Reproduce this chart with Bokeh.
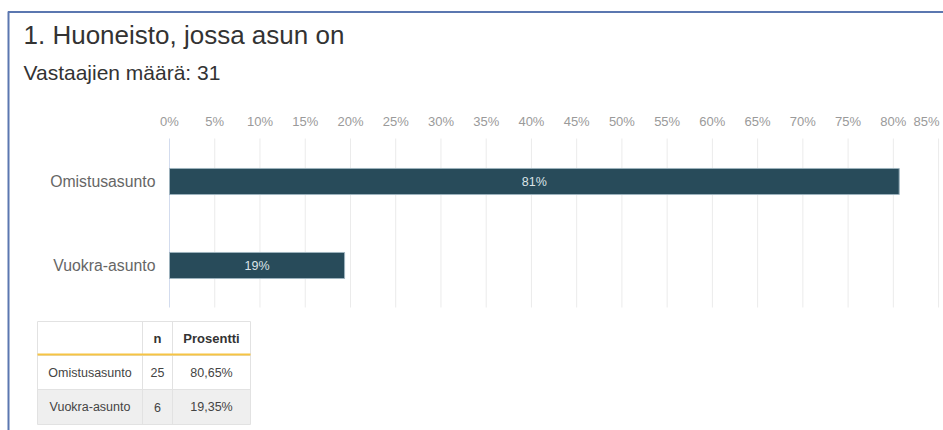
from bokeh.plotting import figure
from bokeh.models import Range1d
from bokeh.core.properties import value
from bokeh.embed import file_html
from bokeh.resources import INLINE

# ---- data ----
title = "1. Huoneisto, jossa asun on"
subtitle = "Vastaajien määrä: 31"
categories = ["Omistusasunto", "Vuokra-asunto"]
counts = [25, 6]
percents = [80.65, 19.35]
tick_values = [0, 5, 10, 15, 20, 25, 30, 35, 40, 45, 50, 55, 60, 65, 70, 75, 80, 85]
tick_labels = [f"{t}%" for t in tick_values]
table_header = ["", "n", "Prosentti"]

FONT = value("Liberation Sans")
W, H = 943, 430

# pixel geometry of the chart area
X0, PX_PER_PCT = 169.0, 9.048
Y0, PX_PER_ROW = 181.0, 84.0

p = figure(width=W, height=H, output_backend="svg", toolbar_location=None,
           x_range=Range1d(-X0 / PX_PER_PCT, (W - X0) / PX_PER_PCT),
           y_range=Range1d((H - Y0) / PX_PER_ROW, -Y0 / PX_PER_ROW),
           x_axis_location=None, y_axis_location=None, min_border=0,
           outline_line_color=None, background_fill_color="white",
           border_fill_color="white")
p.grid.visible = False
p.extra_x_ranges = {"px": Range1d(0, W)}
p.extra_y_ranges = {"px": Range1d(H, 0)}

# outer panel border
p.segment(x0=[7.5, 8], y0=[11.5, 11], x1=[W, 8], y1=[11.5, H],
          x_range_name="px", y_range_name="px", line_color="#5b77b0", line_width=2)

# title texts
p.text(x=[23], y=[34], text=[title], x_range_name="px", y_range_name="px",
       text_font=FONT, text_font_size="26px", text_color="#333333",
       text_baseline="middle", text_align="left")
p.text(x=[23], y=[72], text=[subtitle], x_range_name="px", y_range_name="px",
       text_font=FONT, text_font_size="21px", text_color="#333333",
       text_baseline="middle", text_align="left")

# vertical gridlines
grid_colors = ["#d3dcee"] + ["#ebebeb"] * (len(tick_values) - 1)
p.segment(x0=tick_values, x1=tick_values, y0=[138] * len(tick_values), y1=[307] * len(tick_values),
          y_range_name="px", line_color=grid_colors, line_width=1)

# tick labels (top)
offsets = [0] * (len(tick_values) - 1) + [-12]
p.text(x=tick_values, y=[121] * len(tick_values), text=tick_labels, x_offset=offsets,
       y_range_name="px", text_font=FONT, text_font_size="13px", text_color="#9a9a9a",
       text_align="center", text_baseline="middle")

# bars
idx = list(range(len(categories)))
p.hbar(y=idx, left=0, right=percents, height=0.31, fill_color="#284b5a",
       line_color="#9db2bd", line_width=1)
p.text(x=[v / 2 for v in percents], y=idx, text=[f"{round(v)}%" for v in percents],
       text_font=FONT, text_font_size="12.5px", text_color="#dce4e8",
       text_align="center", text_baseline="middle")

# category labels
p.text(x=[155] * len(categories), y=idx, text=categories, x_range_name="px",
       text_font=FONT, text_font_size="15.8px", text_color="#666666",
       text_align="right", text_baseline="middle")

# ---- table ----
col_edges = [37, 142, 172, 250]
row_edges = [321, 355, 389, 424]
row_fill = ["white", "white", "#efefef"]
for r in range(3):
    p.quad(left=[col_edges[0]], right=[col_edges[-1]], top=[row_edges[r]], bottom=[row_edges[r + 1]],
           x_range_name="px", y_range_name="px", fill_color=row_fill[r], line_color=None)
# cell borders
for c in col_edges:
    p.segment(x0=[c], x1=[c], y0=[row_edges[0]], y1=[row_edges[-1]],
              x_range_name="px", y_range_name="px", line_color="#e2e2e2", line_width=1)
for r in row_edges:
    p.segment(x0=[col_edges[0]], x1=[col_edges[-1]], y0=[r], y1=[r],
              x_range_name="px", y_range_name="px", line_color="#e2e2e2", line_width=1)
p.segment(x0=[col_edges[0]], x1=[col_edges[-1]], y0=[row_edges[1] - 1], y1=[row_edges[1] - 1],
          x_range_name="px", y_range_name="px", line_color="#f6c443", line_width=2)

col_centers = [(col_edges[i] + col_edges[i + 1]) / 2 for i in range(3)]
row_centers = [(row_edges[i] + row_edges[i + 1]) / 2 for i in range(3)]

p.text(x=col_centers[1:], y=[row_centers[0]] * 2, text=table_header[1:],
       x_range_name="px", y_range_name="px", text_font=FONT, text_font_size="13px",
       text_font_style="bold", text_color="#333333", text_align="center", text_baseline="middle")

cell_x, cell_y, cell_t = [], [], []
for i, cat in enumerate(categories):
    vals = [cat, str(counts[i]), f"{percents[i]:.2f}".replace(".", ",") + "%"]
    for j, t in enumerate(vals):
        cell_x.append(col_centers[j])
        cell_y.append(row_centers[i + 1])
        cell_t.append(t)
p.text(x=cell_x, y=cell_y, text=cell_t, x_range_name="px", y_range_name="px",
       text_font=FONT, text_font_size="12.5px", text_color="#444444",
       text_align="center", text_baseline="middle")

open("out.html", "w").write(file_html(p, INLINE))
